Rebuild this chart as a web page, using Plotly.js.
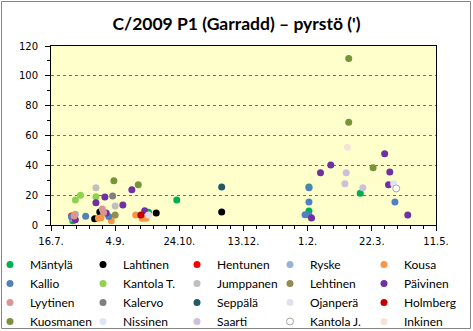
<!DOCTYPE html>
<html>
<head>
<meta charset="utf-8">
<script src="https://cdn.plot.ly/plotly-3.0.1.min.js"></script>
<style>html,body{margin:0;padding:0;background:#fff;}#chart{width:473px;height:331px;}</style>
</head>
<body>
<div id="chart"></div>
<script>
// Series names (legend order)
const seriesNames = ["Mäntylä","Lahtinen","Hentunen","Ryske","Kousa",
  "Kallio","Kantola T.","Jumppanen","Lehtinen","Päivinen",
  "Lyytinen","Kalervo","Seppälä","Ojanperä","Holmberg",
  "Kuosmanen","Nissinen","Saarti","Kantola J.","Inkinen"];

// Observation dates and tail lengths (arcmin) per observer
const mantylaDates = ["2011-08-02","2011-09-30","2011-10-22","2012-02-02","2012-02-02","2012-03-13"];
const mantylaVals  = [2.9, 8.5, 16.8, 9.4, 25.5, 21.3];
const lahtinenDates = ["2011-08-19","2011-08-23","2011-10-06","2011-11-26"];
const lahtinenVals  = [4.2, 8.7, 8, 8.7];
const hentunenDates = ["2011-08-01"];
const hentunenVals  = [6];
const ryskeDates = ["2011-08-02","2011-08-04"];
const ryskeVals  = [4.5, 7.2];
const kousaDates = ["2011-08-03","2011-08-22","2011-08-24","2011-09-01","2011-09-20","2011-09-25","2011-09-28"];
const kousaVals  = [6.5, 4.5, 4.9, 2.9, 6.7, 4.5, 4.5];
const kallioDates = ["2011-08-01","2011-08-12","2011-08-30","2012-01-30","2012-02-02","2012-02-02","2012-02-02","2012-04-09"];
const kallioVals  = [5.6, 5.8, 5.7, 6.9, 6.7, 15.5, 25, 15.5];
const kantolaTDates = ["2011-08-04","2011-08-08","2011-08-20"];
const kantolaTVals  = [16.8, 20, 19];
const jumppanenDates = ["2011-08-20","2011-09-04"];
const jumppanenVals  = [24.9, 12.8];
const lehtinenDates = ["2011-09-04"];
const lehtinenVals  = [6.7];
const paivinenDates = ["2011-08-04","2011-08-20","2011-08-27","2011-08-28","2011-09-10","2011-09-17","2011-09-27",
  "2012-02-04","2012-02-11","2012-02-19","2012-04-01","2012-04-04","2012-04-05","2012-04-19"];
const paivinenVals  = [3.6, 15, 18.8, 8, 13.4, 23.7, 9.6, 4.7, 35, 40.3, 47.7, 26.9, 35.6, 6.7];
const lyytinenDates = ["2011-08-03","2011-08-25","2011-08-26"];
const lyytinenVals  = [6, 10.8, 8.4];
const kalervoDates = ["2011-09-02"];
const kalervoVals  = [19.5];
const seppalaDates = ["2011-11-26"];
const seppalaVals  = [25.5];
const ojanperaDates = ["2011-09-30"];
const ojanperaVals  = [6.7];
const holmbergDates = ["2011-09-24"];
const holmbergVals  = [6.7];
const kuosmanenDates = ["2011-09-03","2011-09-22","2012-03-04","2012-03-04","2012-03-23"];
const kuosmanenVals  = [29.6, 26.9, 111.6, 68.8, 38.3];
const nissinenDates = ["2012-04-08"];
const nissinenVals  = [27.6];
const saartiDates = ["2012-03-01","2012-03-02","2012-03-15"];
const saartiVals  = [27.6, 35, 24.9];
const kantolaJDates = ["2012-04-10"];
const kantolaJVals  = [24.5];
const inkinenDates = ["2012-03-03"];
const inkinenVals  = [52.2];

const allDates = [mantylaDates,lahtinenDates,hentunenDates,ryskeDates,kousaDates,
  kallioDates,kantolaTDates,jumppanenDates,lehtinenDates,paivinenDates,
  lyytinenDates,kalervoDates,seppalaDates,ojanperaDates,holmbergDates,
  kuosmanenDates,nissinenDates,saartiDates,kantolaJDates,inkinenDates];
const allVals = [mantylaVals,lahtinenVals,hentunenVals,ryskeVals,kousaVals,
  kallioVals,kantolaTVals,jumppanenVals,lehtinenVals,paivinenVals,
  lyytinenVals,kalervoVals,seppalaVals,ojanperaVals,holmbergVals,
  kuosmanenVals,nissinenVals,saartiVals,kantolaJVals,inkinenVals];

const colors = ["#00B050","#000000","#FF0000","#95B3D7","#F79646",
  "#4F81BD","#92D050","#BFBFBF","#948A54","#7030A0",
  "#D99694","#7F7F7F","#215968","#E4DFEC","#C00000",
  "#77933C","#DCE6F2","#CCC0DA","#FFFFFF","#F2E4D6"];

const xTickStart = "2011-07-16";
const xEnd = "2012-05-11";

// layout geometry (pixels)
const W = 473, H = 331, ML = 51, MR = 37, MT = 46, MB = 106;
const PW = W - ML - MR, PH = H - MT - MB;
const px2x = p => (p - ML) / PW;
const px2y = p => (H - MB - p) / PH;

const legendIds = ["legend","legend2","legend3","legend4","legend5"];
const traces = seriesNames.map((name, i) => ({
  type: "scatter", mode: "markers", name: name,
  x: allDates[i], y: allVals[i],
  legend: legendIds[i % 5],
  marker: {
    color: colors[i], size: 7,
    line: name === "Kantola J." ? {color: "#A6A6A6", width: 1} : {width: 0}
  },
  hoverinfo: "x+y+name"
}));

const legendLefts = [-10, 83, 177, 270, 364];
const legendTop = 250;
const layout = {
  width: W, height: H,
  margin: {l: ML, r: MR, t: MT, b: MB, autoexpand: false},
  paper_bgcolor: "#FFFFFF",
  plot_bgcolor: "#FFFFCC",
  font: {family: "Lato", color: "#000"},
  title: {
    text: "C/2009 P1 (Garradd) – pyrstö (')",
    font: {family: "Lato", size: 17.5, weight: "bold", color: "#000"},
    x: 0.5, xref: "container", xanchor: "center",
    y: 1 - 24 / H, yref: "container", yanchor: "middle"
  },
  xaxis: {
    type: "date",
    range: [xTickStart, xEnd],
    tick0: xTickStart, dtick: 50 * 86400000,
    tickformat: "%-d.%-m.",
    ticks: "outside", ticklen: 5, tickwidth: 1, tickcolor: "#000",
    showline: true, linecolor: "#000", linewidth: 1, mirror: true,
    showgrid: false, zeroline: false,
    tickfont: {family: "DejaVu Sans", size: 10, color: "#000"},
    ticklabelstandoff: 2,
    minor: {tick0: xTickStart, dtick: 10 * 86400000, ticks: "outside", ticklen: 3, tickcolor: "#000", showgrid: false},
    fixedrange: true
  },
  yaxis: {
    range: [0, 120], tick0: 0, dtick: 20,
    ticks: "outside", ticklen: 5, tickwidth: 1, tickcolor: "#000",
    showline: true, linecolor: "#000", linewidth: 1, mirror: true,
    showgrid: true, gridcolor: "#707070", gridwidth: 1, griddash: "dot",
    zeroline: false,
    tickfont: {family: "DejaVu Sans", size: 10, color: "#000"},
    ticklabelstandoff: 5,
    minor: {tick0: 0, dtick: 10, ticks: "outside", ticklen: 3, tickcolor: "#000", showgrid: false},
    fixedrange: true
  },
  shapes: [{
    type: "rect", xref: "paper", yref: "paper",
    x0: px2x(1.5), x1: px2x(470.5), y0: px2y(328.5), y1: px2y(1.5),
    line: {color: "#868686", width: 1}, fillcolor: "rgba(0,0,0,0)"
  }],
  showlegend: true
};
legendIds.forEach((id, k) => {
  layout[id] = {
    x: px2x(legendLefts[k]), y: px2y(legendTop),
    xanchor: "left", yanchor: "top", orientation: "v",
    bgcolor: "rgba(0,0,0,0)", borderwidth: 0,
    font: {family: "Lato", size: 12, color: "#000"},
    tracegroupgap: 0, itemclick: false, itemdoubleclick: false
  };
});

Plotly.newPlot("chart", traces, layout, {displayModeBar: false, staticPlot: true});
</script>
</body>
</html>
